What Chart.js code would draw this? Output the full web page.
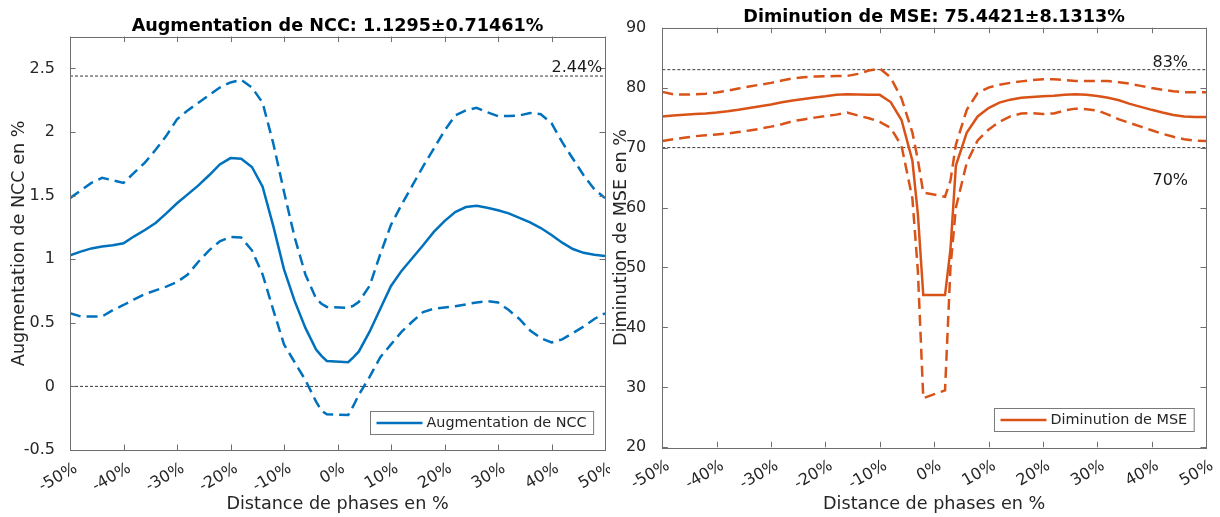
<!DOCTYPE html>
<html lang="fr">
<head>
<meta charset="UTF-8">
<title>Augmentation de NCC / Diminution de MSE</title>
<script src="https://cdn.jsdelivr.net/npm/chart.js"></script>
<style>
  body { margin: 0; background: #fff; }
  .panel { position: absolute; top: 0; width: 610px; height: 517px; }
  #left { left: 0; }
  #right { left: 610px; }
</style>
</head>
<body>
<div class="panel" id="left"><canvas id="nccChart"></canvas></div>
<div class="panel" id="right"><canvas id="mseChart"></canvas></div>

<script>
// distance de phases (%), 0 exclu
const phases = [-50,-48,-46,-44,-42,-40,-38,-36,-34,-32,-30,-28,-26,-24,-22,-20,-18,-16,-14,-12,-10,-8,-6,-4,-3,-2,
                2,3,4,6,8,10,12,14,16,18,20,22,24,26,28,30,32,34,36,38,40,42,44,46,48,50];

// NCC : moyenne, moyenne + std, moyenne - std
const nccMean = [1.03,1.06,1.085,1.10,1.11,1.125,1.18,1.23,1.285,1.36,1.44,1.51,1.58,1.66,1.745,1.795,1.79,1.725,1.57,1.26,0.92,0.67,0.46,0.29,0.24,0.20,
                 0.19,0.23,0.275,0.43,0.61,0.79,0.91,1.01,1.11,1.215,1.30,1.37,1.41,1.42,1.405,1.385,1.36,1.325,1.29,1.245,1.19,1.13,1.08,1.05,1.035,1.025];
const nccUpper = [1.48,1.54,1.60,1.64,1.62,1.60,1.68,1.76,1.86,1.97,2.10,2.17,2.23,2.29,2.35,2.39,2.41,2.35,2.23,1.91,1.53,1.17,0.88,0.69,0.65,0.625,
                  0.617,0.635,0.665,0.79,1.04,1.27,1.43,1.58,1.73,1.87,2.01,2.13,2.17,2.19,2.155,2.125,2.125,2.13,2.15,2.14,2.07,1.92,1.79,1.66,1.55,1.48];
const nccLower = [0.575,0.55,0.55,0.55,0.60,0.64,0.685,0.725,0.755,0.785,0.82,0.88,0.98,1.07,1.14,1.175,1.17,1.07,0.88,0.60,0.33,0.19,0.05,-0.12,-0.19,-0.22,
                  -0.225,-0.15,-0.065,0.075,0.23,0.33,0.43,0.51,0.585,0.61,0.62,0.63,0.645,0.66,0.67,0.66,0.60,0.53,0.44,0.38,0.345,0.37,0.42,0.47,0.53,0.575];

// MSE : moyenne, moyenne + std, moyenne - std
const mseMean = [75.2,75.35,75.5,75.6,75.7,75.85,76.05,76.3,76.6,76.9,77.2,77.55,77.85,78.1,78.35,78.55,78.8,78.9,78.85,78.8,78.8,77.6,74.6,67.8,59,45.4,
                 45.4,53,67,72.5,75.2,76.6,77.5,78.0,78.3,78.45,78.55,78.65,78.8,78.9,78.8,78.6,78.3,77.9,77.3,76.8,76.3,75.85,75.45,75.2,75.1,75.1];
const mseUpper = [79.3,78.9,78.85,78.9,79.0,79.2,79.5,79.85,80.2,80.5,80.8,81.2,81.55,81.75,81.85,81.9,81.95,81.95,82.3,82.85,83.2,81.7,78.2,72.5,68,62.5,
                  61.8,64.5,70.5,76.3,79.1,80.0,80.5,80.8,81.05,81.25,81.4,81.4,81.25,81.1,81.1,81.1,81.1,80.9,80.65,80.3,79.95,79.65,79.4,79.25,79.25,79.25];
const mseLower = [71.1,71.4,71.65,71.9,72.05,72.2,72.35,72.6,72.85,73.15,73.5,73.9,74.4,74.7,75.0,75.25,75.5,75.85,75.35,74.9,74.3,73.3,70.3,61.5,49.5,28.2,
                  29.5,50,60,67.5,71.2,73.0,74.3,75.2,75.7,75.75,75.6,75.7,76.2,76.5,76.4,76.2,75.5,74.7,74.1,73.5,72.9,72.3,71.8,71.4,71.15,71.1];

// lignes de repère horizontales
const nccRefs = [2.44, 0];
const mseRefs = [83, 70];

const BLUE = '#0072BD';
const ORANGE = '#D95319';
const INK = '#262626';

Chart.defaults.font.family = "'DejaVu Sans', sans-serif";
Chart.defaults.color = INK;

const toPoints = arr => phases.map((p, i) => ({ x: p, y: arr[i] }));

// cadre, graduations vers l'intérieur, annotations et légende encadrée
const matlabAxes = {
  id: 'matlabAxes',
  afterDraw(chart, args, opts) {
    const { ctx, chartArea: a, scales: { x, y } } = chart;
    ctx.save();
    ctx.strokeStyle = '#6e6e6e';
    ctx.lineWidth = 1;
    ctx.beginPath();
    x.ticks.forEach(t => {
      const px = Math.round(x.getPixelForValue(t.value)) + 0.5;
      ctx.moveTo(px, a.bottom); ctx.lineTo(px, a.bottom - 5.5);
      ctx.moveTo(px, a.top); ctx.lineTo(px, a.top + 5.5);
    });
    y.ticks.forEach(t => {
      const py = Math.round(y.getPixelForValue(t.value)) + 0.5;
      ctx.moveTo(a.left, py); ctx.lineTo(a.left + 5.5, py);
      ctx.moveTo(a.right, py); ctx.lineTo(a.right - 5.5, py);
    });
    ctx.stroke();
    ctx.strokeRect(Math.round(a.left) + 0.5, Math.round(a.top) + 0.5,
                   Math.round(a.right - a.left), Math.round(a.bottom - a.top));

    ctx.fillStyle = '#1a1a1a';
    ctx.font = "16px 'DejaVu Sans'";
    ctx.textAlign = 'right';
    ctx.textBaseline = 'alphabetic';
    opts.notes.forEach(n => {
      ctx.fillText(n.text, x.getPixelForValue(n.x), y.getPixelForValue(n.y) + n.dy);
    });

    const lg = opts.legend;
    ctx.font = "14.4px 'DejaVu Sans'";
    const w = ctx.measureText(lg.text).width + 63;
    const h = 23;
    const bx = Math.round(a.right - 12 - w) + 0.5;
    const by = Math.round(a.bottom - 16.5 - h) + 0.5;
    ctx.fillStyle = '#fff';
    ctx.fillRect(bx, by, w, h);
    ctx.strokeStyle = '#7a7a7a';
    ctx.strokeRect(bx, by, w, h);
    ctx.strokeStyle = lg.color;
    ctx.lineWidth = 2.5;
    ctx.beginPath();
    ctx.moveTo(bx + 6, by + h / 2);
    ctx.lineTo(bx + 52, by + h / 2);
    ctx.stroke();
    ctx.fillStyle = INK;
    ctx.textAlign = 'left';
    ctx.textBaseline = 'middle';
    ctx.fillText(lg.text, bx + 56, by + h / 2 + 0.5);
    ctx.restore();
  }
};

function makeChart(id, s) {
  const curve = (label, arr, dash) => ({
    label, data: toPoints(arr), borderColor: s.color, backgroundColor: s.color,
    borderWidth: 2.5, borderDash: dash, pointRadius: 0, tension: 0, fill: false
  });
  const refLine = v => ({
    label: 'ref ' + v, data: [{ x: -50, y: v }, { x: 50, y: v }],
    borderColor: '#222', borderWidth: 0.9, borderDash: [3, 2], pointRadius: 0, fill: false
  });
  const step = s.yStep;

  return new Chart(document.getElementById(id), {
    type: 'line',
    data: {
      datasets: [
        curve(s.legend, s.mean, []),
        curve(s.legend + ' + std', s.upper, [11, 6]),
        curve(s.legend + ' - std', s.lower, [11, 6]),
        ...s.refs.map(refLine)
      ]
    },
    options: {
      responsive: true,
      maintainAspectRatio: false,
      animation: false,
      layout: { padding: { left: 0, right: s.padRight, top: 0, bottom: 0 } },
      plugins: {
        legend: { display: false },
        tooltip: { enabled: false },
        title: {
          display: true, text: s.title, fullSize: false, color: '#000',
          font: { size: 17.6, weight: 'bold' }, padding: { top: s.titleTop, bottom: 0 }
        },
        matlabAxes: { notes: s.notes, legend: { text: s.legend, color: s.color } }
      },
      scales: {
        x: {
          type: 'linear', min: -50, max: 50,
          grid: { display: false }, border: { display: false },
          ticks: {
            stepSize: 10, autoSkip: false, minRotation: 30, maxRotation: 30,
            padding: 1, labelOffset: 6, color: INK, font: { size: 16 },
            callback: v => v + '%'
          },
          title: {
            display: true, text: 'Distance de phases en %', color: INK,
            font: { size: 17.6 }, padding: { top: 0, bottom: 2 }
          },
          afterFit: sc => {
            sc.height = s.xHeight;
            // les étiquettes inclinées ne débordent pas : pas de marge latérale
            sc.paddingLeft = 0;
            sc.paddingRight = 0;
          }
        },
        y: {
          type: 'linear', min: s.yMin, max: s.yMax,
          grid: { display: false }, border: { display: false },
          ticks: { stepSize: step, padding: s.yPad, color: INK, font: { size: 16 }, callback: v => String(v) },
          afterBuildTicks: sc => {
            sc.ticks = sc.ticks.filter(t => Math.abs(t.value / step - Math.round(t.value / step)) < 1e-6);
          },
          title: {
            display: true, text: s.yLabel, color: INK,
            font: { size: 17.6 }, padding: { top: s.yTitlePad, bottom: 0 }
          },
          afterFit: sc => { sc.width = s.yWidth; }
        }
      }
    },
    plugins: [matlabAxes]
  });
}

makeChart('nccChart', {
  title: 'Augmentation de NCC: 1.1295\u00B10.71461%',
  legend: 'Augmentation de NCC',
  yLabel: 'Augmentation de NCC en %',
  color: BLUE,
  mean: nccMean, upper: nccUpper, lower: nccLower, refs: nccRefs,
  yMin: -0.5, yMax: 2.75, yStep: 0.5,
  yWidth: 70, yPad: 7, yTitlePad: 8.5, xHeight: 67, padRight: 5, titleTop: 15.5,
  notes: [{ text: '2.44%', x: 49.5, y: nccRefs[0], dy: -4 }]
});

makeChart('mseChart', {
  title: 'Diminution de MSE: 75.4421\u00B18.1313%',
  legend: 'Diminution de MSE',
  yLabel: 'Diminution de MSE en %',
  color: ORANGE,
  mean: mseMean, upper: mseUpper, lower: mseLower, refs: mseRefs,
  yMin: 20, yMax: 90, yStep: 10,
  yWidth: 52.3, yPad: 8, yTitlePad: 0.5, xHeight: 69.7, padRight: 14, titleTop: 6.6,
  notes: [
    { text: '83%', x: 46.7, y: mseRefs[0], dy: -3 },
    { text: '70%', x: 46.7, y: mseRefs[1], dy: 37 }
  ]
});
</script>
</body>
</html>
